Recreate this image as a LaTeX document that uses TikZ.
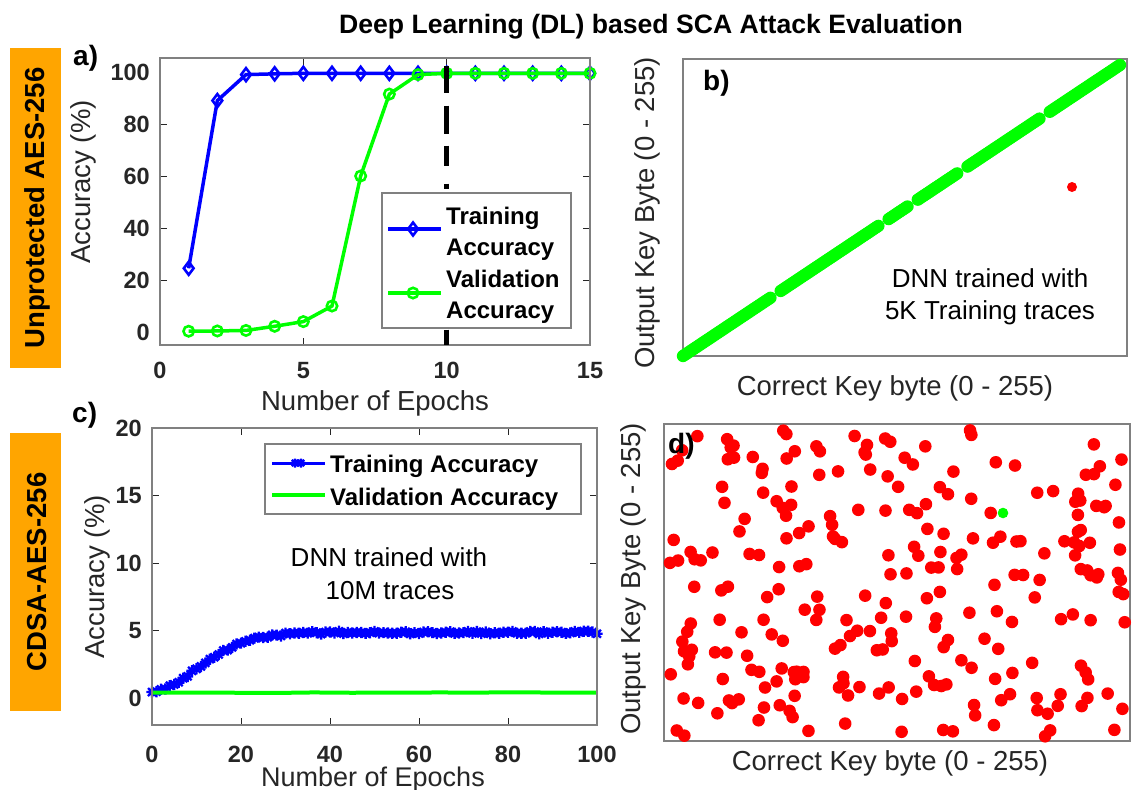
\documentclass[tikz,border=0pt]{standalone}
\usepackage{fontspec}
\setmainfont{Liberation Sans}
\usetikzlibrary{plotmarks}

\definecolor{mblue}{RGB}{0,0,255}
\definecolor{mgreen}{RGB}{0,255,0}
\definecolor{mred}{RGB}{255,0,0}
\definecolor{morange}{RGB}{255,165,0}
\definecolor{tickgray}{RGB}{38,38,38}
\definecolor{framegray}{RGB}{128,128,128}

% MATLAB-like asterisk marker: a plus and a cross together
\pgfdeclareplotmark{matstar}{%
  \pgfpathmoveto{\pgfqpoint{-\pgfplotmarksize}{0pt}}\pgfpathlineto{\pgfqpoint{\pgfplotmarksize}{0pt}}%
  \pgfpathmoveto{\pgfqpoint{0pt}{-\pgfplotmarksize}}\pgfpathlineto{\pgfqpoint{0pt}{\pgfplotmarksize}}%
  \pgfpathmoveto{\pgfqpoint{-.707\pgfplotmarksize}{-.707\pgfplotmarksize}}\pgfpathlineto{\pgfqpoint{.707\pgfplotmarksize}{.707\pgfplotmarksize}}%
  \pgfpathmoveto{\pgfqpoint{-.707\pgfplotmarksize}{.707\pgfplotmarksize}}\pgfpathlineto{\pgfqpoint{.707\pgfplotmarksize}{-.707\pgfplotmarksize}}%
  \pgfusepathqstroke}

\tikzset{
  frame/.style={draw=framegray, line width=1.6pt},
  tickmark/.style={draw=tickgray, line width=1pt},
  ticklbl/.style={text=tickgray, font=\fontsize{23.5}{26}\selectfont\bfseries, inner sep=0pt},
  axlbl/.style={text=tickgray, font=\fontsize{27.5}{30}\selectfont, inner sep=0pt},
  leglbl/.style={text=black, font=\fontsize{24}{26}\selectfont\bfseries, inner sep=0pt, anchor=base west},
  note/.style={text=black, font=\fontsize{26}{28}\selectfont, inner sep=0pt, anchor=base},
  panellbl/.style={text=black, font=\fontsize{28}{30}\selectfont\bfseries, inner sep=0pt, anchor=base west},
  sidebox/.style={fill=morange},
  sidelbl/.style={text=black, font=\fontsize{27.5}{30}\selectfont\bfseries, rotate=90, inner sep=0pt},
  legbox/.style={draw=framegray, line width=1.6pt, fill=white},
  trainline/.style={mblue, line width=3.5pt, mark=diamond, mark size=6.5pt, mark options={solid, line width=2.6pt}},
  validline/.style={mgreen, line width=3.5pt, mark=o, mark size=5.2pt, mark options={solid, line width=2.6pt}},
  trainstar/.style={mblue, line width=3pt, mark=matstar, mark size=5.6pt, mark options={solid, line width=2.3pt}},
  validflat/.style={mgreen, line width=4pt},
  epochmark/.style={black, line width=5pt, dash pattern=on 27pt off 13pt on 28pt off 12pt on 20pt off 18pt on 5pt off 141pt on 16pt off 20pt},
  hitdot/.style={fill=mgreen},
  missdot/.style={fill=mred},
}

\begin{document}
\begin{tikzpicture}[x=1pt, y=-1pt]
\useasboundingbox (0,0) rectangle (1133,790);
\fill[white] (0,0) rectangle (1133,790);

% ---------- title and side tags ----------
\node[text=black, font=\fontsize{26.6}{30}\selectfont\bfseries, inner sep=0pt, anchor=base] (title) at (651,33) {Deep Learning (DL) based SCA Attack Evaluation};

\fill[sidebox] (10,48) rectangle (61,368);
\node[sidelbl] (tagA) at (37,208) {Unprotected AES-256};
\fill[sidebox] (10,433) rectangle (61,711);
\node[sidelbl] (tagB) at (37,572) {CDSA-AES-256};

% ---------- panel a: accuracy vs epochs, unprotected ----------
\node[panellbl] (lblA) at (73,65) {a)};
\begin{scope}[xshift=160pt, yshift=-332pt, x=28.667pt, y=2.6pt]
  \foreach \v in {20,40,60,80} {
    \draw[tickmark] (0,\v) -- ++(7pt,0pt);
    \draw[tickmark] (15,\v) -- ++(-7pt,0pt);
  }
  \foreach \v in {5,10} {
    \draw[tickmark] (\v,-5) -- ++(0pt,7pt);
    \draw[tickmark] (\v,105.4) -- ++(0pt,-7pt);
  }
  \foreach \v in {0,20,...,100}
    \node[ticklbl, anchor=east, xshift=-10pt] (ya\v) at (0,\v) {\v};
  \foreach \v in {0,5,10,15}
    \node[ticklbl, anchor=base, yshift=-33pt] (xa\v) at (\v,-5) {\v};
  \draw[trainline] plot coordinates {(1,24.5) (2,89) (3,99) (4,99.3) (5,99.5) (6,99.5) (7,99.5) (8,99.5) (9,99.5) (10,99.5) (11,99.5) (12,99.5) (13,99.5) (14,99.5) (15,99.5)};
  \draw[validline] plot coordinates {(1,0.3) (2,0.4) (3,0.6) (4,2.2) (5,4) (6,10) (7,60) (8,91.5) (9,99) (10,99.5) (11,99.5) (12,99.5) (13,99.5) (14,99.5) (15,99.5)};
  \coordinate (dashtop) at (10,102.5);
  \coordinate (dashbot) at (10,-5);
  \draw[frame] (0,-5) rectangle (15,105.4);
\end{scope}
\draw[epochmark] (dashtop) -- (dashbot);

% legend of panel a
\draw[legbox] (382,193) rectangle (571,328);
\draw[trainline, mark=none] (388,229) -- (441,229);
\draw[trainline, only marks] plot coordinates {(413,229)};
\draw[validline, mark=none] (388,293) -- (441,293);
\draw[validline, only marks] plot coordinates {(413,293)};
\node[leglbl] (legA1) at (446,224) {Training};
\node[leglbl] (legA2) at (446,255) {Accuracy};
\node[leglbl] (legA3) at (446,287) {Validation};
\node[leglbl] (legA4) at (446,318) {Accuracy};

\node[axlbl, rotate=90] (ylabA) at (83,182) {Accuracy (\%)};
\node[axlbl, anchor=base] (xlabA) at (375,410) {Number of Epochs};

% ---------- panel b: predicted vs correct key byte, 5K traces ----------
\draw[frame] (683,59) rectangle (1127,356);
\foreach \a/\b in {0/51,57/114,120/131,137/160,166/208,214/255} {
  \foreach \i in {\a,...,\b} {
    \fill[hitdot] ({683+1.7137*\i},{356-1.1412*\i}) circle (6.2pt);
  }
}
\fill[missdot] (1072,187) circle (5pt);
\node[panellbl] (lblB) at (703,90) {b)};
\node[note] (noteB1) at (990,287) {DNN trained with};
\node[note] (noteB2) at (990,319) {5K Training traces};
\node[axlbl, rotate=90] (ylabB) at (647,213) {Output Key Byte (0 - 255)};
\node[axlbl, anchor=base] (xlabB) at (895,395) {Correct Key byte (0 - 255)};

% ---------- panel c: accuracy vs epochs, CDSA-protected ----------
\node[panellbl] (lblC) at (72,422) {c)};
\begin{scope}[xshift=152pt, yshift=-698pt, x=4.45pt, y=13.5pt]
  \foreach \v in {5,10,15} {
    \draw[tickmark] (0,\v) -- ++(7pt,0pt);
    \draw[tickmark] (100,\v) -- ++(-7pt,0pt);
  }
  \foreach \v in {20,40,60,80} {
    \draw[tickmark] (\v,-2) -- ++(0pt,7pt);
    \draw[tickmark] (\v,20) -- ++(0pt,-7pt);
  }
  \foreach \v in {0,5,...,20}
    \node[ticklbl, anchor=east, xshift=-10pt] (yc\v) at (0,\v) {\v};
  \foreach \v in {0,20,...,100}
    \node[ticklbl, anchor=base, yshift=-37pt] (xc\v) at (\v,-2) {\v};
  \pgfmathsetseed{4242}
  \draw[trainstar] plot[domain=0:100, samples=101] (\x, {0.4+4.45*(1-exp(-(((\x+0.3)/15)^1.8)))+0.1*rand});
  \draw[validflat] plot[domain=0:100, samples=21, smooth] (\x, {0.4+0.02*rand});
  \draw[frame] (0,-2) rectangle (100,20);
\end{scope}

% legend of panel c
\draw[legbox] (265,444) rectangle (581,514);
\draw[mblue, line width=3pt] (272,463) -- (325,463);
\draw[trainstar, only marks, mark size=4.5pt] plot coordinates {(295,463) (301,463)};
\draw[validflat] (272,495) -- (325,495);
\node[leglbl] (legC1) at (330,472) {Training Accuracy};
\node[leglbl] (legC2) at (330,505) {Validation Accuracy};

\node[note] (noteC1) at (389,566) {DNN trained with};
\node[note] (noteC2) at (390,599) {10M traces};
\node[axlbl, rotate=90] (ylabC) at (97,577) {Accuracy (\%)};
\node[axlbl, anchor=base, font=\fontsize{27}{30}\selectfont] (xlabC) at (373,786) {Number of Epochs};

% ---------- panel d: predicted vs correct key byte, 10M traces ----------
\draw[frame] (664,424) rectangle (1130,741);
\pgfmathsetseed{20231}
\foreach \i in {1,...,256} {
  \pgfmathsetmacro{\px}{669+457*rnd}
  \pgfmathsetmacro{\py}{430+307*rnd}
  \fill[missdot] (\px,\py) circle (6.3pt);
}
\fill[hitdot] (1003,513) circle (5.3pt);
\node[panellbl] (lblD) at (668,453) {d)};
\node[axlbl, rotate=90] (ylabD) at (633,579) {Output Key Byte (0 - 255)};
\node[axlbl, anchor=base] (xlabD) at (890,770) {Correct Key byte (0 - 255)};
\end{tikzpicture}
\end{document}
